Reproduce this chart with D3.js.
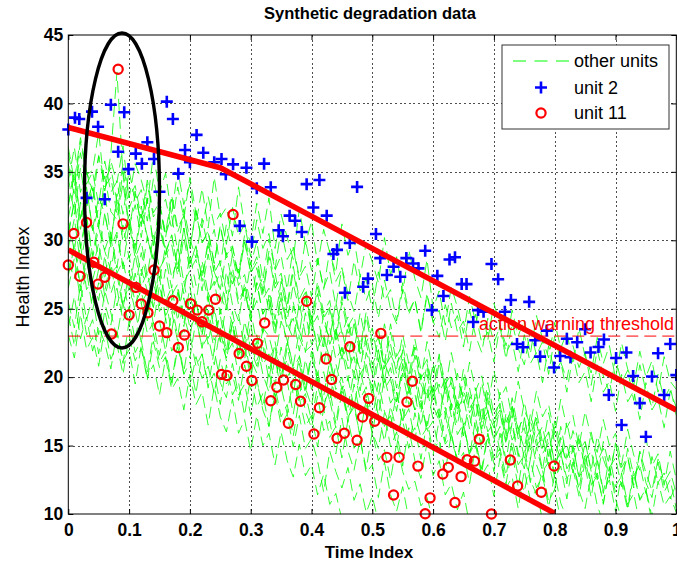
<!DOCTYPE html>
<html>
<head>
<meta charset="utf-8">
<script src="https://cdn.jsdelivr.net/npm/d3@7"></script>
<style>
  body { margin: 0; background: #fff; }
  svg { display: block; }
  text { font-family: "Liberation Sans", Arial, Helvetica, sans-serif; }
</style>
</head>
<body>
<svg id="chart" width="677" height="567"></svg>
<script>
// ---- data -------------------------------------------------------------
const xTicks = [0, 0.1, 0.2, 0.3, 0.4, 0.5, 0.6, 0.7, 0.8, 0.9, 1];
const yTicks = [10, 15, 20, 25, 30, 35, 40, 45];
const xTickLabels = ["0", "0.1", "0.2", "0.3", "0.4", "0.5", "0.6", "0.7", "0.8", "0.9", "1"];

// sampling interval of the health-index trajectories
const timeStep = 0.01;

// health index of the remaining fleet units, one row per unit, sampled every timeStep
const otherUnits = [
  [36.4,33.9,37.2,34.8,35.1,37.9,33.6,35.8,34.2,36.9,33.1,35.6,34.4,32.7,36.3,33.5,34.9,31.8,35.2,32.6,34.1,31.2,33.8,30.9,34.6,31.7,32.4,30.3,33.9,31.1,29.8,32.7,30.5,33.1,29.4,31.9,30.2,28.6,32.3,29.7,31.4,28.2,30.8,29.1,27.6,31.2,28.9,30.1,27.3,29.8,28.4,26.9,30.2,27.5,28.8,26.1,29.3,27.2,25.8,28.6,25.0,26.3,23.8,26.6,25.1,23.2,25.9,24.0,25.3,22.7,25.4,23.8,22.3,24.9,23.0,24.2,21.7,24.5,22.8,21.4,24.0,22.1,23.3,20.9,23.6,21.5,20.3,22.9,21.0,22.3,19.9,22.5,20.6,19.4,21.9,20.0,21.2,18.9,21.5,19.7,19.1],
  [34.6,31.9,35.3,32.4,33.8,30.9,34.7,32.1,31.5,34.2,30.8,33.4,31.2,32.9,29.7,32.6,30.4,31.8,29.2,32.3,30.1,28.7,31.6,29.4,30.8,28.1,31.2,28.9,27.6,30.4,28.2,29.9,27.1,30.1,27.8,28.9,26.4,29.5,27.3,28.1,25.9,28.6,26.5,27.7,25.2,28.0,26.1,24.8,27.4,25.6,26.8,24.3,27.1,25.0,23.9,26.4,24.6,25.7,23.2,26.0,24.1,22.9,25.3,23.6,24.5,22.2,24.9,23.0,21.8,24.3,22.5,23.7,21.3,24.0,22.1,20.9,23.4,21.6,22.6,20.2,23.0,21.1,19.8,22.3,20.7,21.8,19.4,22.0,20.1,18.9,21.4,19.6,20.5,18.3,20.9,19.0,17.8,20.2,18.4,19.3,17.2],
  [32.6,35.1,31.4,33.9,30.8,33.2,31.9,29.7,33.4,30.6,31.8,29.2,32.5,30.1,28.6,31.3,29.0,30.4,27.9,30.9,28.3,29.6,27.0,29.8,27.7,26.4,29.1,26.8,27.9,25.5,28.4,26.2,27.3,24.7,27.6,25.4,24.1,26.8,24.9,25.9,23.4,26.1,24.0,22.8,25.5,23.2,24.4,21.9,24.7,22.5,23.6,21.1,23.9,21.7,20.6,23.1,21.0,22.2,19.8,22.6,20.4,21.5,19.1,21.8,19.7,18.6,21.1,19.0,20.1,17.8,20.5,18.4,19.3,17.0,19.7,17.6,16.5,19.0,17.1,18.0,15.8,18.4,16.3,17.2,14.9,17.5,15.6,14.5,16.9,15.0,15.9,13.6,16.2,14.3,13.2,15.5,13.5,14.4,12.1,14.6,12.5],
  [31.5,29.2,32.8,30.3,31.1,28.6,32.0,29.5,30.6,28.1,31.2,28.7,29.9,27.4,30.4,27.9,28.8,26.5,29.6,26.9,27.8,25.4,28.5,26.1,27.0,24.6,27.7,25.3,24.1,26.9,24.5,25.6,23.2,26.0,23.7,24.8,22.3,25.2,22.9,21.8,24.5,22.1,23.2,20.8,23.6,21.3,22.4,19.9,22.8,20.4,19.3,22.0,19.6,20.7,18.2,21.0,18.8,19.9,17.4,20.2,17.9,16.8,19.4,17.1,18.2,15.7,18.5,16.3,15.2,17.6,15.4,16.4,13.9,16.7,14.5,13.3,15.8,13.6,12.4,14.9,12.6,13.5,11.1,13.8,11.7,10.4,12.9,10.6,9.4],
  [30.4,32.9,29.6,31.8,28.9,31.5,29.3,30.6,28.0,31.1,28.7,29.8,27.4,30.3,28.2,27.0,29.6,27.3,28.5,26.1,29.0,26.7,27.8,25.5,28.2,26.0,24.9,27.5,25.3,26.4,24.1,26.9,24.6,25.7,23.4,26.2,23.9,22.8,25.4,23.1,24.3,21.9,24.6,22.4,23.5,21.2,23.9,21.7,20.6,23.1,20.9,22.0,19.7,22.4,20.2,21.3,19.0,21.6,19.5,18.4,21.0,18.8,19.9,17.6,20.3,18.1,19.2,16.9,19.6,17.4,16.3,18.9,16.7,17.8,15.6,18.2,16.0,17.0,14.8,17.4,15.2,14.1,16.7,14.5,15.5,13.3,16.0,13.8,14.8,12.6,15.2,13.0,14.1,11.9,14.5,12.3,11.2,13.8,11.6,12.5,10.4],
  [29.4,31.6,28.3,30.7,27.9,29.8,27.1,30.2,27.6,28.5,26.2,29.0,26.6,27.7,25.1,28.1,25.5,26.6,24.1,27.0,24.5,25.6,23.0,25.9,23.4,24.5,21.9,24.8,22.4,21.3,23.9,21.2,22.3,19.8,22.6,20.2,21.3,18.7,21.6,19.2,17.9,20.5,18.0,19.1,16.6,19.5,17.0,18.1,15.6,18.4,16.0,14.8,17.4,14.9,16.0,13.5,16.3,13.9,12.6,15.2,12.8,13.9,11.4,12.2,10.3,11.6,9.2],
  [28.5,27.2,29.7,26.4,27.1,28.8,25.9,27.6,28.1,25.2,26.9,24.8,27.9,26.3,25.1,27.4,24.2,26.0,26.8,23.7,25.9,24.4,23.1,26.2,24.8,22.6,25.3,23.9,24.6,22.0,24.9,22.4,23.6,23.0,21.2,24.1,22.7,20.8,23.4,21.9,22.3,20.1,22.9,21.4,19.5,22.2,20.6,21.5,19.0,21.8,20.3,18.6,21.1,19.8,18.2,20.7,19.1,17.6,20.2,18.4,19.3,17.1,19.6,18.0,16.5,19.1,17.4,18.2,15.9,18.5,16.9,17.6,15.3,17.9,16.2,14.8,17.3,15.6,16.4,14.2,16.8,15.0,13.9,16.1,14.6,15.3,13.2,15.7,14.0,12.8,15.1,13.4,14.2,12.1,14.6,13.0,11.7,14.0,12.3,13.1,11.5],
  [27.6,29.8,26.3,28.4,27.0,25.6,28.9,26.1,27.5,25.0,27.8,25.4,26.3,24.1,27.0,24.8,25.7,23.3,26.2,24.5,22.9,25.6,23.6,24.4,22.0,25.0,22.8,23.7,21.3,24.1,22.1,20.8,23.5,21.3,22.2,19.9,22.7,20.6,21.5,19.1,21.9,19.8,18.6,21.2,19.1,20.0,17.8,20.5,18.4,19.3,16.9,19.6,17.5,16.3,18.9,16.8,17.7,15.4,18.1,16.1,16.8,14.6,17.2,15.3,14.1,16.6,14.4,15.3,13.0,15.8,13.7,14.5,12.2,14.9,12.8,11.6,14.0,11.9,12.8,10.5,12.9,10.8,9.7],
  [26.5,28.7,25.6,27.8,24.9,26.9,25.4,23.8,26.5,24.1,25.2,22.6,25.4,23.2,24.0,21.6,24.3,21.9,22.8,20.4,23.1,20.8,21.7,19.2,22.0,19.6,18.5,21.0,18.7,19.5,17.2,19.8,17.6,16.4,18.8,16.5,17.3,14.9,17.2,14.8,15.5,13.9,11.6,14.6,13.1,11.9,13.4,11.0,12.2,10.1,11.3,9.4],
  [25.5,23.6,26.8,24.2,25.9,23.1,26.3,24.7,22.9,25.6,23.8,24.9,22.5,25.3,23.4,24.1,21.9,24.8,22.6,23.5,21.4,24.2,22.2,23.0,20.9,23.6,21.7,22.5,20.2,23.1,21.3,20.3,22.7,20.6,21.5,19.4,22.2,20.1,21.0,18.8,21.6,19.7,20.4,18.2,21.0,19.1,19.9,17.8,20.5,18.5,19.3,17.2,20.0,18.1,18.9,16.6,19.5,17.6,18.3,16.2,18.9,17.0,17.8,15.6,18.4,16.5,17.2,15.1,17.9,16.0,16.7,14.6,17.4,15.4,16.2,14.1,16.9,15.0,15.6,13.5,16.4,14.4,15.1,13.0,15.8,13.9,14.6,12.5,15.3,13.4,14.1,12.0,14.8,12.8,13.6,11.5,14.2,12.3,13.0,11.1,12.2],
  [34.3,36.8,33.5,35.2,32.7,36.1,33.9,34.6,31.9,35.0,32.3,33.6,31.0,34.1,31.7,32.5,30.2,33.0,30.6,31.9,29.4,32.2,29.8,30.7,28.3,31.1,28.9,29.6,27.4,30.0,27.7,28.8,26.3,29.2,26.8,27.6,25.3,28.1,25.7,26.6,24.2,27.0,24.7,25.6,23.1,25.9,23.7,24.5,22.1,24.8,22.6,23.5,21.0,23.9,21.5,22.4,20.0,22.8,20.5,21.3,18.9,21.7,19.5,20.2,17.9,20.6,18.4,19.2,16.8,19.6,17.3,18.1,15.8,18.5,16.2,17.1,14.7,17.5,15.2,16.0,13.6,16.4,14.1,15.0,12.6,15.3,13.1,13.9,11.5,14.3,12.0,12.8,10.5,13.2,11.0,11.7,9.4],
  [35.6,33.2,36.4,34.1,35.0,32.6,35.8,33.5,34.3,31.9,35.1,32.8,33.7,31.4,34.5,32.2,33.0,30.8,33.9,31.6,34.6,32.0,30.9,33.2,31.1,32.0,29.7,32.4,30.3,31.2,28.8,31.5,29.4,30.5,27.9,30.8,28.6,29.4,27.1,30.0,27.8,28.7,26.4,29.3,27.0,27.9,25.6,28.5,26.3,27.2,24.9,27.7,25.6,26.4,24.1,26.9,24.8,25.7,23.4,26.1,24.0,24.9,22.6,25.4,23.3,24.1,21.9,24.6,22.5,23.3,21.1,23.8,21.8,22.6,20.4,23.1,21.0,21.8,19.6,22.3,20.3,21.1,18.9,21.6,19.6,20.4,18.2,20.9,18.9,19.7,17.5,20.2,18.2,19.0,16.9,19.6,17.6,18.4,16.3,19.0,17.8],
  [24.6,22.3,25.8,23.1,24.2,21.7,24.9,22.6,23.4,21.0,24.1,21.8,22.7,20.3,23.2,21.1,21.9,19.6,22.5,20.2,21.1,18.8,21.7,19.5,20.3,18.0,20.9,18.7,19.6,17.2,20.1,17.8,18.8,16.4,19.3,17.1,18.0,15.7,18.5,16.4,17.2,14.9,17.7,15.6,16.4,14.1,16.9,14.8,15.5,13.3,16.0,13.9,14.7,12.5,15.2,13.1,11.8,12.4,10.6,11.2,9.5],
  [23.1,21.4,24.6,22.0,22.9,20.8,23.7,21.3,22.4,20.2,23.0,21.2,22.1,19.8,22.6,20.7,21.5,19.4,22.2,20.3,19.3,21.5,19.9,20.8,18.8,21.3,19.5,20.2,18.3,20.9,19.1,19.8,17.8,20.4,18.6,19.3,17.3,19.9,18.1,18.8,16.8,19.4,17.6,18.3,16.3,18.9,17.1,17.8,15.8,18.4,16.6,17.3,15.3,17.9,16.1,16.8,14.8,17.4,15.6,16.3,14.3,16.9,15.1,15.8,13.8,16.4,14.6,15.3,13.3,15.9,14.1,14.8,12.8,15.4,13.6,14.3,12.3,14.9,13.1,13.8,11.8,14.4,12.6,13.3,11.3,13.9,12.1,12.8,10.8,13.4,11.6,12.3,10.3,12.9,11.1,11.8,9.8,12.4,10.6,11.3,10.1],
  [23.6,25.9,22.8,24.4,21.9,23.7,22.5,20.6,23.3,21.2,22.0,19.5,22.3,20.0,20.9,18.7,21.4,19.1,19.9,17.6,20.2,18.0,18.9,16.5,19.3,17.1,16.0,18.4,15.9,16.9,14.6,17.2,15.0,15.9,13.6,16.0,13.9,12.7,15.1,12.8,13.6,11.4,12.9,10.7,11.5,9.6],
  [32.5,34.8,31.6,33.9,30.7,32.4,33.6,30.1,32.8,29.9,31.5,29.0,31.9,30.3,28.6,31.0,28.9,29.7,27.4,30.2,27.8,28.6,26.3,29.0,26.7,27.6,25.2,28.0,25.6,26.5,24.1,26.9,24.6,25.4,23.0,25.8,23.5,24.3,21.9,24.7,22.4,23.2,20.8,23.6,21.3,22.1,19.7,22.5,20.2,21.0,18.6,21.4,19.1,19.9,17.5,20.3,18.0,18.8,16.4,19.2,16.9,17.7,15.3,18.1,15.8,16.6,14.2,17.0,14.7,15.5,13.1,15.9,13.6,14.4,12.0,14.8,12.5,11.4,13.2,10.9,11.8,9.5],
  [27.4,29.6,26.6,28.8,25.8,27.9,26.3,28.5,25.2,27.0,24.8,27.6,25.4,26.2,23.9,26.7,24.5,25.3,23.0,25.8,23.6,24.4,22.1,24.9,22.7,23.5,21.2,24.0,21.8,22.6,20.3,23.1,20.9,21.7,19.4,22.2,20.0,20.8,18.5,21.3,19.1,19.9,17.6,20.4,18.2,19.0,16.7,19.5,17.3,18.1,15.8,18.6,16.4,17.2,14.9,17.7,15.5,16.3,14.0,16.8,14.6,15.4,13.1,15.9,13.7,14.5,12.2,15.0,12.8,13.6,11.3,14.1,11.9,12.7,10.4,13.2,11.0,11.8,9.5],
  [30.5,32.8,29.4,31.6,28.7,30.9,29.2,27.8,30.4,27.9,28.9,26.4,29.1,26.9,27.6,25.2,27.9,25.6,26.4,23.9,26.6,24.1,24.9,22.4,25.1,22.7,21.4,24.0,21.6,22.3,19.9,22.5,20.2,18.9,21.4,19.0,19.7,17.3,19.9,17.5,16.3,18.6,16.1,16.8,14.4,17.0,14.6,13.2,15.5,13.0,13.6,11.2,13.8,11.4,10.2,12.0,9.6],
  [31.6,33.9,30.8,32.7,34.1,31.2,33.5,36.3,42.3,34.8,31.0,32.6,30.2,33.1,29.6,31.8,29.1,30.4,28.0,30.9,28.3,29.5,27.2,30.0,27.6,28.5,26.1,29.0,26.7,27.5,25.2,28.0,25.7,26.5,24.2,27.0,24.7,25.5,23.2,26.0,23.7,24.5,22.2,25.0,22.7,23.5,21.2,24.0,21.7,22.5,20.2,23.0,20.7,21.5,19.2,22.0,19.7,20.5,18.2,21.0,18.7,19.5,17.2,20.0,17.7,18.5,16.2,19.0,16.7,17.5,15.2,18.0,15.7,16.5,14.2,17.0,14.7,15.5,13.2,16.0,13.7,14.5,12.2,15.0,12.7,13.5,11.2,14.0,11.7,12.5,10.2,13.0,10.7,11.5,9.2],
  [36.8,34.3,37.5,35.0,33.6,36.2,34.4,35.3,32.8,35.6,33.1,34.0,31.6,34.4,32.0,32.8,30.5,33.3,30.9,31.8,29.4,32.1,29.8,30.6,28.3,31.0,28.7,29.5,27.2,29.9,27.6,28.4,26.1,28.8,26.5,27.3,25.0,27.7,25.4,26.2,23.9,26.6,24.3,25.1,22.8,25.5,23.2,24.0,21.7,24.4,22.1,22.9,20.6,23.3,21.0,21.8,19.5,22.2,19.9,20.7,18.4,21.1,18.8,19.6,17.3,20.0,17.7,18.5,16.2,18.9,16.6,17.4,15.1,17.8,15.5,16.3,14.0,16.7,14.4,15.2,12.9,15.6,13.3,14.1,11.8,14.5,12.2,13.0,10.7,13.4,11.1,9.6]
];

// unit 2: [time index, health index]
const unit2 = [
  [0.000,38.10],[0.011,38.96],[0.018,38.86],[0.030,33.10],[0.039,39.40],[0.049,38.30],[0.060,33.00],[0.070,39.90],
  [0.082,36.47],[0.092,39.35],[0.099,35.20],[0.111,36.33],[0.121,35.60],[0.130,37.16],[0.141,35.94],[0.150,33.55],
  [0.162,40.13],[0.172,38.86],[0.181,34.87],[0.192,36.60],[0.200,35.70],[0.211,37.70],[0.222,36.40],[0.240,35.70],
  [0.252,35.94],[0.259,34.82],[0.271,35.55],[0.282,31.05],[0.293,35.30],[0.302,29.90],[0.310,33.80],[0.322,35.60],
  [0.333,33.87],[0.346,30.73],[0.353,30.30],[0.364,31.80],[0.373,31.43],[0.384,30.60],[0.392,34.10],[0.403,32.40],
  [0.413,34.40],[0.425,31.80],[0.436,29.00],[0.442,29.30],[0.455,26.17],[0.463,29.80],[0.475,33.90],[0.485,26.60],
  [0.493,27.20],[0.506,30.46],[0.513,28.70],[0.524,27.46],[0.535,28.07],[0.546,27.34],[0.556,28.70],[0.567,28.30],
  [0.576,27.95],[0.587,29.24],[0.598,24.90],[0.607,27.40],[0.617,25.93],[0.627,28.60],[0.636,28.76],[0.647,26.80],
  [0.655,26.80],[0.666,24.03],[0.674,24.90],[0.683,24.78],[0.696,28.27],[0.707,27.15],[0.718,24.78],[0.728,25.64],
  [0.738,22.42],[0.748,22.18],[0.758,25.50],[0.768,22.70],[0.776,21.50],[0.787,23.40],[0.799,20.70],[0.809,21.55],
  [0.820,22.80],[0.826,21.45],[0.837,22.55],[0.850,23.50],[0.859,21.80],[0.872,22.20],[0.881,22.75],[0.889,18.70],
  [0.901,21.40],[0.910,16.50],[0.918,21.80],[0.929,20.08],[0.940,18.10],[0.950,15.65],[0.960,20.05],[0.970,21.75],
  [0.980,18.70],[0.990,22.42],[1.000,20.15]
];

// unit 11: [time index, health index]
const unit11 = [
  [0.000,28.20],[0.009,30.50],[0.019,27.37],[0.030,31.30],[0.042,28.40],[0.049,26.80],[0.060,27.30],[0.071,23.15],
  [0.082,42.50],[0.090,31.20],[0.100,24.54],[0.111,26.56],[0.120,25.35],[0.131,24.70],[0.141,27.83],[0.150,23.74],
  [0.162,23.25],[0.172,25.58],[0.181,22.17],[0.191,23.08],[0.201,25.37],[0.212,24.90],[0.220,24.05],[0.231,24.90],
  [0.242,25.69],[0.252,20.20],[0.261,20.12],[0.271,31.88],[0.281,21.73],[0.293,20.80],[0.302,19.76],[0.311,22.47],
  [0.323,23.96],[0.333,18.28],[0.343,19.26],[0.354,19.79],[0.362,16.63],[0.374,19.46],[0.382,18.24],[0.392,25.55],
  [0.404,15.85],[0.413,17.76],[0.424,21.33],[0.433,19.83],[0.442,15.53],[0.454,15.90],[0.463,22.22],[0.475,15.39],
  [0.484,17.09],[0.494,18.45],[0.504,16.78],[0.514,23.20],[0.524,14.14],[0.535,11.39],[0.544,14.14],[0.557,18.18],
  [0.566,19.70],[0.575,13.50],[0.587,10.02],[0.595,11.18],[0.616,12.92],[0.625,13.41],[0.636,10.84],[0.646,12.73],
  [0.656,13.97],[0.668,13.86],[0.676,15.47],[0.696,10.00],[0.727,13.95],[0.739,12.05],[0.778,11.59],[0.799,13.51]
];

// fitted degradation trends
const trendUnit2 = [[0, 38.25], [0.25, 35.3], [1, 17.6]];
const trendUnit11 = [[0, 29.3], [0.8, 10.05]];

// warning level
const warningLevel = 23;
const warningLabel = "action warning threshold";

// early-life region of interest: centre and half-widths in data units
const regionCentre = [0.0883, 33.64];
const regionRadii = [0.0617, 11.51];

const legendLabels = ["other units", "unit 2", "unit 11"];

// ---- layout -----------------------------------------------------------
const W = 677, H = 567;
const plot = { left: 68.3, right: 676.3, top: 35, bottom: 514 };
const FONT = '"Liberation Sans", Arial, Helvetica, sans-serif';

const svg = d3.select("#chart");
const x = d3.scaleLinear().domain([0, 1]).range([plot.left, plot.right]);
const y = d3.scaleLinear().domain([10, 45]).range([plot.bottom, plot.top]);

svg.append("rect").attr("width", W).attr("height", H).attr("fill", "#fff");

svg.append("defs").append("clipPath").attr("id", "plotClip")
  .append("rect")
  .attr("x", plot.left).attr("y", plot.top)
  .attr("width", plot.right - plot.left).attr("height", plot.bottom - plot.top);

// dotted grid
const grid = svg.append("g").attr("stroke", "#222").attr("stroke-width", 0.8)
  .attr("stroke-dasharray", "2,2.6").attr("shape-rendering", "crispEdges");
grid.selectAll("line.gx").data(xTicks.slice(1, -1)).join("line")
  .attr("x1", d => Math.round(x(d)) + 0.5).attr("x2", d => Math.round(x(d)) + 0.5)
  .attr("y1", plot.top).attr("y2", plot.bottom);
grid.selectAll("line.gy").data(yTicks.slice(1, -1)).join("line")
  .attr("y1", d => Math.round(y(d)) + 0.5).attr("y2", d => Math.round(y(d)) + 0.5)
  .attr("x1", plot.left).attr("x2", plot.right);

// other units: thin green dashed trajectories
const traj = d3.line().x((d, i) => x(i * timeStep)).y(d => y(d));
svg.append("g").attr("clip-path", "url(#plotClip)")
  .selectAll("path").data(otherUnits).join("path")
  .attr("d", traj)
  .attr("fill", "none").attr("stroke", "#00ff00").attr("stroke-width", 0.8)
  .attr("stroke-dasharray", "12,6");

// warning threshold
svg.append("line")
  .attr("x1", plot.left).attr("x2", plot.right)
  .attr("y1", y(warningLevel)).attr("y2", y(warningLevel))
  .attr("stroke", "#ff0000").attr("stroke-width", 1).attr("stroke-dasharray", "12,6");

// unit 2 markers
const plusSize = 6;
svg.append("g").selectAll("path").data(unit2).join("path")
  .attr("d", d => {
    const cx = x(d[0]), cy = y(d[1]);
    return `M${cx - plusSize},${cy}H${cx + plusSize}M${cx},${cy - plusSize}V${cy + plusSize}`;
  })
  .attr("stroke", "#0000ff").attr("stroke-width", 2.6).attr("fill", "none");

// unit 11 markers
const circleR = 4.6;
svg.append("g").selectAll("circle").data(unit11).join("circle")
  .attr("cx", d => x(d[0])).attr("cy", d => y(d[1])).attr("r", circleR)
  .attr("fill", "none").attr("stroke", "#ff0000").attr("stroke-width", 2.2);

// trend lines
const trendLine = d3.line().x(d => x(d[0])).y(d => y(d[1]));
svg.append("g").attr("clip-path", "url(#plotClip)")
  .selectAll("path").data([trendUnit2, trendUnit11]).join("path")
  .attr("d", trendLine)
  .attr("fill", "none").attr("stroke", "#ff0000").attr("stroke-width", 5.5)
  .attr("stroke-linejoin", "round");

// threshold caption
svg.append("text")
  .attr("x", 479).attr("y", y(warningLevel) - 6)
  .attr("fill", "#ff0000").attr("font-size", 18).text(warningLabel);

// region of interest
svg.append("ellipse")
  .attr("cx", x(regionCentre[0])).attr("cy", y(regionCentre[1]))
  .attr("rx", x(regionCentre[0] + regionRadii[0]) - x(regionCentre[0]))
  .attr("ry", y(regionCentre[1] - regionRadii[1]) - y(regionCentre[1]))
  .attr("fill", "none").attr("stroke", "#000").attr("stroke-width", 3.4);

// axes with inward ticks
const tickFont = g => g.attr("font-family", FONT).attr("font-size", 17.5).attr("font-weight", "bold");
const axB = svg.append("g").attr("transform", `translate(0,${plot.bottom})`)
  .call(d3.axisBottom(x).tickValues(xTicks).tickFormat((d, i) => xTickLabels[i]).tickSize(-5).tickPadding(10))
  .call(tickFont);
const axL = svg.append("g").attr("transform", `translate(${plot.left},0)`)
  .call(d3.axisLeft(y).tickValues(yTicks).tickFormat(d3.format("d")).tickSize(-5).tickPadding(5))
  .call(tickFont);
const axT = svg.append("g").attr("transform", `translate(0,${plot.top})`)
  .call(d3.axisTop(x).tickValues(xTicks).tickFormat("").tickSize(-5));
const axR = svg.append("g").attr("transform", `translate(${plot.right},0)`)
  .call(d3.axisRight(y).tickValues(yTicks).tickFormat("").tickSize(-5));
[axB, axL, axT, axR].forEach(a => {
  a.select(".domain").remove();
  a.selectAll(".tick line").attr("stroke", "#000");
  a.selectAll(".tick text").attr("fill", "#000");
});

// frame
svg.append("rect")
  .attr("x", plot.left).attr("y", plot.top)
  .attr("width", plot.right - plot.left).attr("height", plot.bottom - plot.top)
  .attr("fill", "none").attr("stroke", "#000").attr("stroke-width", 1);

// titles
svg.append("text").attr("x", 370).attr("y", 19).attr("text-anchor", "middle")
  .attr("font-size", 16.5).attr("font-weight", "bold").text("Synthetic degradation data");
svg.append("text").attr("x", 369).attr("y", 558).attr("text-anchor", "middle")
  .attr("font-size", 17).attr("font-weight", "bold").text("Time Index");
svg.append("text").attr("transform", "translate(29,277) rotate(-90)").attr("text-anchor", "middle")
  .attr("font-size", 18).text("Health Index");

// legend
const lg = svg.append("g");
lg.append("rect").attr("x", 502).attr("y", 45).attr("width", 167).attr("height", 84)
  .attr("fill", "#fff").attr("stroke", "#333").attr("stroke-width", 1);
const rowY = [61, 87.5, 113];
lg.append("line").attr("x1", 513).attr("x2", 569).attr("y1", rowY[0]).attr("y2", rowY[0])
  .attr("stroke", "#00ff00").attr("stroke-width", 1).attr("stroke-dasharray", "13,8.5");
lg.append("path")
  .attr("d", `M${541 - plusSize},${rowY[1]}H${541 + plusSize}M541,${rowY[1] - plusSize}V${rowY[1] + plusSize}`)
  .attr("stroke", "#0000ff").attr("stroke-width", 2.6);
lg.append("circle").attr("cx", 541).attr("cy", rowY[2]).attr("r", circleR)
  .attr("fill", "none").attr("stroke", "#ff0000").attr("stroke-width", 2.2);
lg.selectAll("text").data(legendLabels).join("text")
  .attr("x", 574).attr("y", (d, i) => rowY[i] + 6)
  .attr("font-size", 18).attr("fill", "#000").text(d => d);
</script>
</body>
</html>
